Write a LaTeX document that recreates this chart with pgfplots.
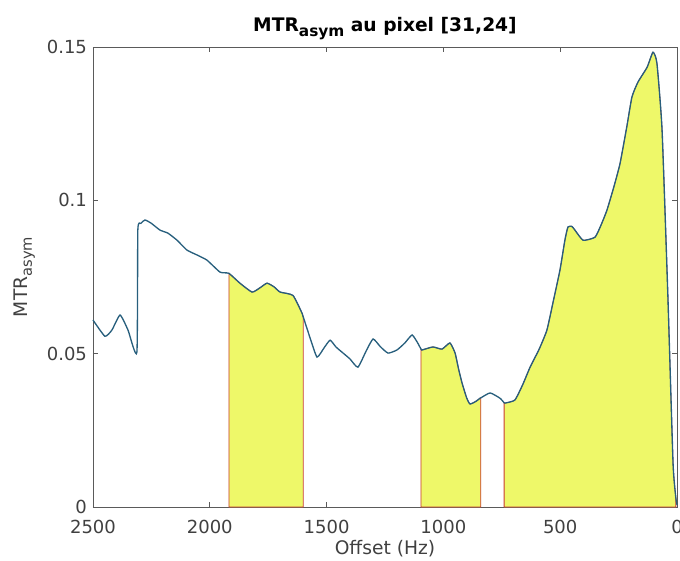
\documentclass[border=0pt]{standalone}
\usepackage{pgfplots}
\pgfplotsset{compat=1.18}
\usepackage{fontspec}
\setmainfont{DejaVu Sans}
\definecolor{curve}{RGB}{40,95,125}
\definecolor{areafill}{RGB}{238,248,105}
\definecolor{areaedge}{RGB}{200,60,50}
\definecolor{axgray}{RGB}{90,90,90}

\pgfplotstableread{
f v
2500 0.0610
2449 0.0557
2419 0.0577
2384 0.0626
2350 0.0577
2312 0.0505
2308 0.0903
2295 0.0925
2277 0.0936
2250 0.0925
2213 0.0903
2179 0.0893
2140 0.0870
2098 0.0838
2055 0.0822
2012 0.0805
1956 0.0766
1918 0.0762
1871 0.0730
1819 0.0701
1785 0.0715
1755 0.0730
1725 0.0718
1699 0.0701
1644 0.0690
1605 0.0632
1600 0.0620
1570 0.0550
1541 0.0489
1510 0.0520
1485 0.0544
1460 0.0522
1434 0.0505
1400 0.0483
1366 0.0456
1330 0.0510
1301 0.0548
1270 0.0523
1237 0.0502
1199 0.0512
1165 0.0535
1134 0.0561
1110 0.0535
1096 0.0515
1092 0.0512
1045 0.0522
1006 0.0515
972 0.0535
950 0.0502
935 0.0450
920 0.0404
900 0.0355
886 0.0336
860 0.0345
843 0.0355
840 0.0356
800 0.0372
758 0.0355
740 0.0340
736 0.0339
694 0.0349
660 0.0400
629 0.0456
590 0.0515
557 0.0577
530 0.0670
501 0.0773
480 0.0870
467 0.0913
450 0.0915
437 0.0903
402 0.0870
351 0.0880
325 0.0920
300 0.0968
270 0.1045
244 0.1120
215 0.1240
193 0.1337
167 0.1386
128 0.1434
103 0.1483
86 0.1447
64 0.1229
39 0.0685
17 0.0143
5 0.0030
0 0.0007
}\curvedata

\pgfplotstableread{
f v
1918 0.0762
1871 0.0730
1819 0.0701
1785 0.0715
1755 0.0730
1725 0.0718
1699 0.0701
1644 0.0690
1605 0.0632
1600 0.0620
}\areaone

\pgfplotstableread{
f v
1096 0.0515
1092 0.0512
1045 0.0522
1006 0.0515
972 0.0535
950 0.0502
935 0.0450
920 0.0404
900 0.0355
886 0.0336
860 0.0345
843 0.0355
840 0.0356
}\areatwo

\pgfplotstableread{
f v
740 0.0340
736 0.0339
694 0.0349
660 0.0400
629 0.0456
590 0.0515
557 0.0577
530 0.0670
501 0.0773
480 0.0870
467 0.0913
450 0.0915
437 0.0903
402 0.0870
351 0.0880
325 0.0920
300 0.0968
270 0.1045
244 0.1120
215 0.1240
193 0.1337
167 0.1386
128 0.1434
103 0.1483
86 0.1447
64 0.1229
39 0.0685
17 0.0143
5 0.0030
}\areathree

\begin{document}
\begin{tikzpicture}
\begin{axis}[
    scale only axis,
    width=438pt, height=345pt,
    x dir=reverse,
    xmin=0, xmax=2500,
    ymin=0, ymax=0.15,
    xtick={0,500,1000,1500,2000,2500},
    ytick={0,0.05,0.1,0.15},
    yticklabels={0,0.05,0.1,0.15},
    x tick label style={/pgf/number format/set thousands separator={}, yshift=-6pt},
    y tick label style={xshift=-1pt},
    tick align=inside,
    major tick length=4pt,
    axis line style={axgray, line width=0.7pt},
    tick style={axgray, line width=0.6pt},
    ticklabel style={font=\fontsize{13.5}{15}\selectfont, text=black!75},
    /pgf/number format/assume math mode=true,
    title={\textbf{MTR\raisebox{-0.45ex}{\fontsize{11.5}{13}\selectfont asym} au pixel [31,24]}},
    title style={font=\fontsize{14}{16}\selectfont, yshift=-4pt},
    xlabel={Offset (Hz)},
    ylabel={MTR\raisebox{-0.4ex}{\fontsize{11}{13}\selectfont asym}},
    label style={font=\fontsize{14}{16}\selectfont, text=black!75},
    xlabel style={yshift=2pt},
    ylabel style={yshift=2pt},
    clip=false,
]
\addplot[fill=areafill, draw=areaedge, line width=0.6pt, smooth, tension=0.3] table[x=f, y=v] {\areaone} \closedcycle;
\addplot[fill=areafill, draw=areaedge, line width=0.6pt, smooth, tension=0.3] table[x=f, y=v] {\areatwo} \closedcycle;
\addplot[fill=areafill, draw=areaedge, line width=0.6pt, smooth, tension=0.3] table[x=f, y=v] {\areathree} \closedcycle;
\addplot[curve, line width=1pt, smooth, tension=0.3] table[x=f, y=v] {\curvedata};
\coordinate (bbsw) at (rel axis cs:-0.1592,-0.1152);
\coordinate (bbne) at (rel axis cs:1.0051,1.1022);
\end{axis}
\pgfresetboundingbox
\path (bbsw) rectangle (bbne);
\end{tikzpicture}
\end{document}
